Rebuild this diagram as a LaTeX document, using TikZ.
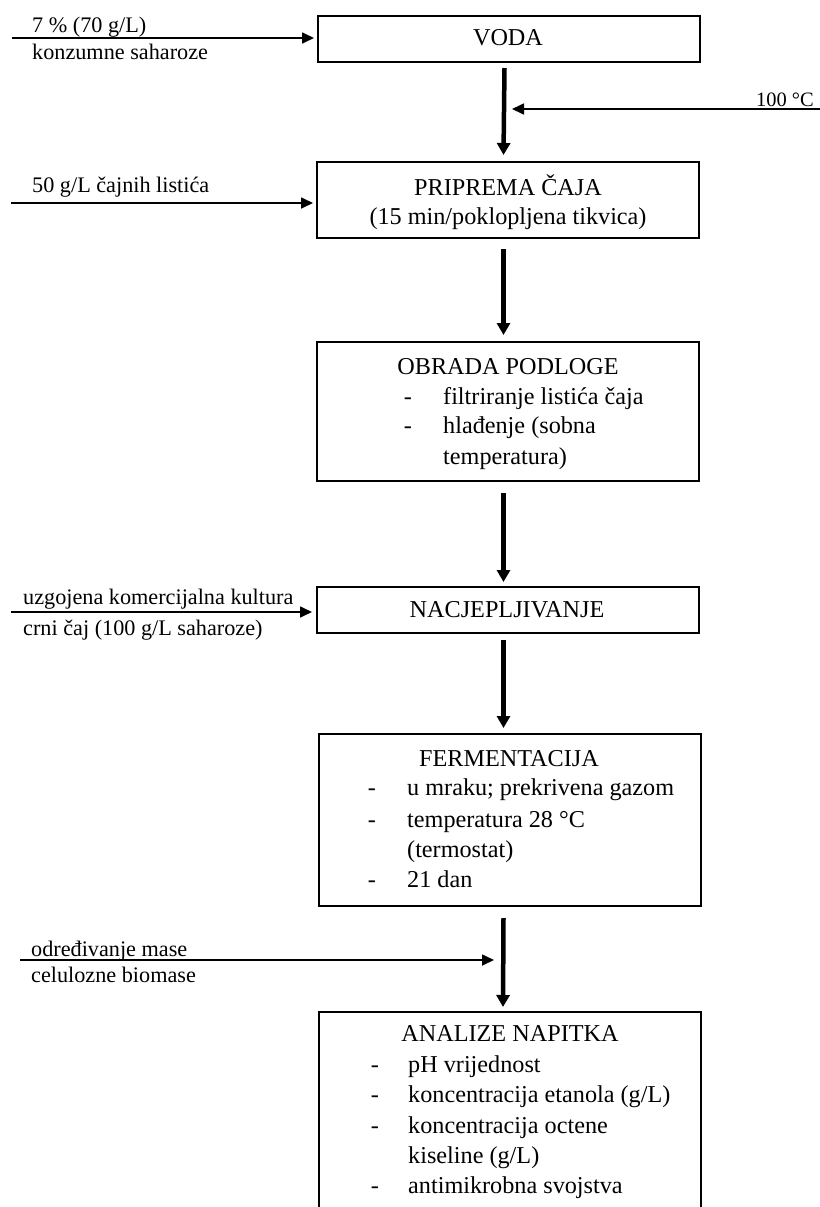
\documentclass[tikz,border=0pt]{standalone}
\usepackage{fontspec}
\setmainfont{Liberation Serif}
\usetikzlibrary{arrows.meta,calc}
\tikzset{
  procbox/.style={draw, line width=1.8bp, minimum width=382bp, minimum height=#1,
    anchor=north west, inner sep=0pt, outer sep=0pt},
  boxtext/.style={font=\fontsize{24.3}{29}\selectfont, inner sep=0pt, anchor=base},
  itemtext/.style={font=\fontsize{24.3}{29}\selectfont, inner sep=0pt, anchor=base west},
  sidetext/.style={font=\fontsize{22.3}{26}\selectfont, inner sep=0pt, anchor=base west},
  mainarrow/.style={line width=4.5bp, -{Triangle[length=12bp,width=13bp]}},
  sidearrow/.style={line width=1.7bp, -{Triangle[length=12bp,width=11bp]}},
}
\begin{document}
\begin{tikzpicture}[x=1bp,y=-1bp]
\useasboundingbox (0,0) rectangle (820,1207);
\fill[white] (0,0) rectangle (820,1207);

% boxes
\node[procbox=46bp] (voda) at (318,16) {};
\node[procbox=76bp] (prip) at (317,162) {};
\node[procbox=139bp] (obr) at (317,342) {};
\node[procbox=46bp] (nac) at (317,587) {};
\node[procbox=172bp] (ferm) at (319,734) {};
\node[procbox=240bp] (anl) at (319,1012) {};

% box texts
\node[boxtext] (tvoda) at (508,45) {VODA};
\node[boxtext] (tprip1) at (508,195) {PRIPREMA ČAJA};
\node[boxtext] (tprip2) at (508,224) {(15 min/poklopljena tikvica)};

\node[boxtext] (tobr) at (508,374) {OBRADA PODLOGE};
\node[boxtext] (dobr1) at (408,404) {-};
\node[itemtext] (tobr1) at (443,404) {filtriranje listića čaja};
\node[boxtext] (dobr2) at (408,433) {-};
\node[itemtext] (tobr2) at (443,433) {hlađenje (sobna};
\node[itemtext] (tobr3) at (443,464) {temperatura)};

\node[boxtext] (tnac) at (507,617) {NACJEPLJIVANJE};

\node[boxtext] (tferm) at (509,766) {FERMENTACIJA};
\node[boxtext] (dferm1) at (372,795) {-};
\node[itemtext] (tferm1) at (407,795) {u mraku; prekrivena gazom};
\node[boxtext] (dferm2) at (372,827) {-};
\node[itemtext] (tferm2) at (407,827) {temperatura 28 °C};
\node[itemtext] (tferm3) at (407,857) {(termostat)};
\node[boxtext] (dferm4) at (372,887) {-};
\node[itemtext] (tferm4) at (407,887) {21 dan};

\node[boxtext] (tanl) at (510,1041) {ANALIZE NAPITKA};
\node[boxtext] (danl1) at (375,1072) {-};
\node[itemtext] (tanl1) at (408,1072) {pH vrijednost};
\node[boxtext] (danl2) at (375,1102) {-};
\node[itemtext] (tanl2) at (408,1102) {koncentracija etanola (g/L)};
\node[boxtext] (danl3) at (375,1133) {-};
\node[itemtext] (tanl3) at (408,1133) {koncentracija octene};
\node[itemtext] (tanl4) at (408,1163) {kiseline (g/L)};
\node[boxtext] (danl5) at (375,1193) {-};
\node[itemtext] (tanl5) at (408,1193) {antimikrobna svojstva};

% main vertical arrows
\draw[mainarrow] ($(voda.south)+(-4.5,6)$) -- ($(prip.north)+(-4.5,-7)$);
\draw[mainarrow] ($(prip.south)+(-4.5,11)$) -- ($(obr.north)+(-4.5,-7)$);
\draw[mainarrow] ($(obr.south)+(-4.5,12)$) -- ($(nac.north)+(-4.5,-5)$);
\draw[mainarrow] ($(nac.south)+(-4.5,7)$) -- ($(ferm.north)+(-6.5,-6)$);
\draw[mainarrow] ($(ferm.south)+(-6.5,12)$) -- ($(anl.north)+(-7,-5)$);

% side inputs
\coordinate (in1) at (12,38);
\draw[sidearrow] (in1) -- ($(in1 -| voda.west)+(-4,0)$);
\node[sidetext] (l1a) at (32,32) {7 \% (70 g/L)};
\node[sidetext] (l1b) at (32,59) {konzumne saharoze};

\coordinate (in2) at (820,109);
\coordinate (j2) at (512,109);
\draw[sidearrow] (in2) -- (j2);
\node[sidetext, font=\fontsize{20.5}{24}\selectfont] (l2) at (756,106) {100 °C};

\coordinate (in3) at (11,203);
\draw[sidearrow] (in3) -- ($(in3 -| prip.west)+(-4,0)$);
\node[sidetext] (l3) at (32,192) {50 g/L čajnih listića};

\coordinate (in4) at (11,612);
\draw[sidearrow] (in4) -- ($(in4 -| nac.west)+(-5,0)$);
\node[sidetext] (l4a) at (23,604) {uzgojena komercijalna kultura};
\node[sidetext] (l4b) at (23,635) {crni čaj (100 g/L saharoze)};

\coordinate (in5) at (20,960);
\coordinate (j5) at (494,960);
\draw[sidearrow] (in5) -- (j5);
\node[sidetext] (l5a) at (31,956) {određivanje mase};
\node[sidetext] (l5b) at (31,982) {celulozne biomase};
\end{tikzpicture}
\end{document}
